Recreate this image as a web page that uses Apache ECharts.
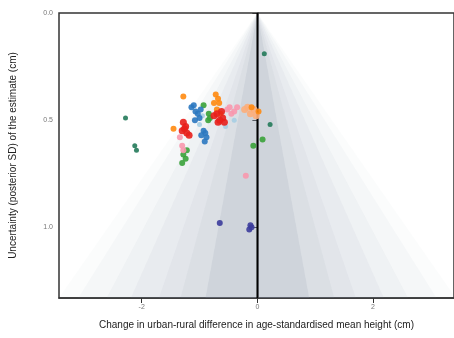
<!DOCTYPE html>
<html><head><meta charset="utf-8">
<script src="https://cdn.jsdelivr.net/npm/echarts@6/dist/echarts.min.js"></script>
<style>html,body{margin:0;padding:0;background:#fff}#c{width:454px;height:338px}</style>
</head><body><div id="c"></div>
<script>
// funnel z-multipliers for shaded uncertainty bands
const funnelZ = [2.58, 2.33, 1.96, 1.645, 1.28, 1.0, 0.674];
const funnelAlpha = [0.03, 0.05, 0.06, 0.07, 0.07, 0.08, 0.15];
const yTicks = [0, 0.5, 1.0];
const xTicks = [-2, 0, 2];
const blue = [[-1.14,0.44],[-1.10,0.43],[-1.07,0.46],[-1.03,0.47],[-1.0,0.49],[-1.08,0.50],[-0.98,0.45],[-0.93,0.55],[-0.90,0.56],[-0.88,0.58],[-0.97,0.57],[-0.91,0.60]];
const red = [[-0.75,0.48],[-0.70,0.47],[-0.65,0.50],[-0.60,0.49],[-0.57,0.51],[-0.68,0.51],[-0.62,0.46],[-1.28,0.51],[-1.24,0.53],[-1.30,0.55],[-1.22,0.56],[-1.18,0.57],[-1.26,0.54]];
const orange = [[-1.28,0.39],[-0.72,0.38],[-0.68,0.40],[-0.75,0.42],[-0.66,0.42],[-0.70,0.45],[-0.64,0.47],[-1.45,0.54],[0.02,0.46],[-0.1,0.44]];
const green = [[-0.93,0.43],[-0.84,0.47],[-0.85,0.50],[-0.82,0.49],[-1.28,0.66],[-1.24,0.68],[-1.30,0.70],[-1.22,0.64],[0.09,0.59],[-0.07,0.62]];
const darkGreen = [[-2.28,0.49],[-2.12,0.62],[-2.09,0.64],[0.22,0.52],[0.12,0.19]];
const pink = [[-0.52,0.45],[-0.48,0.44],[-0.45,0.47],[-0.40,0.46],[-0.35,0.44],[-1.34,0.58],[-1.30,0.62],[-1.28,0.64],[-0.2,0.76]];
const salmon = [[-0.22,0.45],[-0.17,0.44],[-0.12,0.47],[-0.06,0.45],[-0.02,0.48]];
const navy = [[-0.65,0.98],[-0.12,0.99],[-0.14,1.01],[-0.1,1.0]];
const lightBlue = [[-1.0,0.52],[-0.95,0.48],[-0.55,0.53],[-0.4,0.5]];
const yMax = 1.33;

const chart = echarts.init(document.getElementById('c'));
function sc(data, color, size) {
  return {type:'scatter', data, symbolSize:size||6, itemStyle:{color, opacity:0.9}, z:5};
}
const funnelSeries = {
  type:'custom',
  data: funnelZ.map((z,i)=>[z, funnelAlpha[i]]),
  renderItem: function(params, api){
    const z = api.value(0);
    const a = api.value(1);
    const apex = api.coord([0,0]);
    const l = api.coord([-z*yMax, yMax]);
    const r = api.coord([z*yMax, yMax]);
    return {type:'polygon', shape:{points:[apex,l,r]}, style:{fill:'rgba(140,148,170,'+a+')'}};
  },
  z:1, silent:true
};
chart.setOption({
  animation:false,
  grid:{left:58, top:13, right:0, bottom:40, show:true, borderColor:'#333', borderWidth:1.5},
  xAxis:{type:'value', min:-3.43, max:3.4, interval:2,
    name:'Change in urban-rural difference in age-standardised mean height (cm)',
    nameLocation:'middle', nameGap:22, nameTextStyle:{fontSize:10, color:'#222', fontFamily:'Liberation Sans'},
    axisLine:{show:true, onZero:false, lineStyle:{color:'#333', width:1.5}},
    axisTick:{show:true, length:5, lineStyle:{color:'#333'}, customValues:xTicks},
    axisLabel:{fontSize:7, color:'#777', margin:6, customValues:xTicks, fontFamily:'Liberation Sans'},
    splitLine:{show:false}},
  yAxis:{type:'value', inverse:true, min:0, max:yMax,
    name:'Uncertainty (posterior SD) of the estimate (cm)',
    nameLocation:'middle', nameGap:41, nameTextStyle:{fontSize:10, color:'#222', fontFamily:'Liberation Sans'},
    axisLine:{show:true, lineStyle:{color:'#333', width:1.5}},
    axisTick:{show:true, length:5, lineStyle:{color:'#333'}, customValues:yTicks},
    axisLabel:{fontSize:7, color:'#777', margin:6, customValues:yTicks, formatter:v=>v.toFixed(1), fontFamily:'Liberation Sans'},
    splitLine:{show:false}},
  series:[
    funnelSeries,
    {type:'line', data:[[0,0],[0,yMax]], symbol:'none', lineStyle:{color:'#000', width:1.8}, z:3, silent:true},
    sc(lightBlue,'#a6cee3',5),
    sc(darkGreen,'#237a5a',5),
    sc(green,'#3aa23a',6),
    sc(salmon,'#fdae7b',7),
    sc(pink,'#f898ae',6),
    sc(orange,'#ff8a10',6),
    sc(blue,'#2b78c0',6),
    sc(red,'#e8201c',7),
    sc(navy,'#3c3c9c',6)
  ]
});
</script></body></html>
